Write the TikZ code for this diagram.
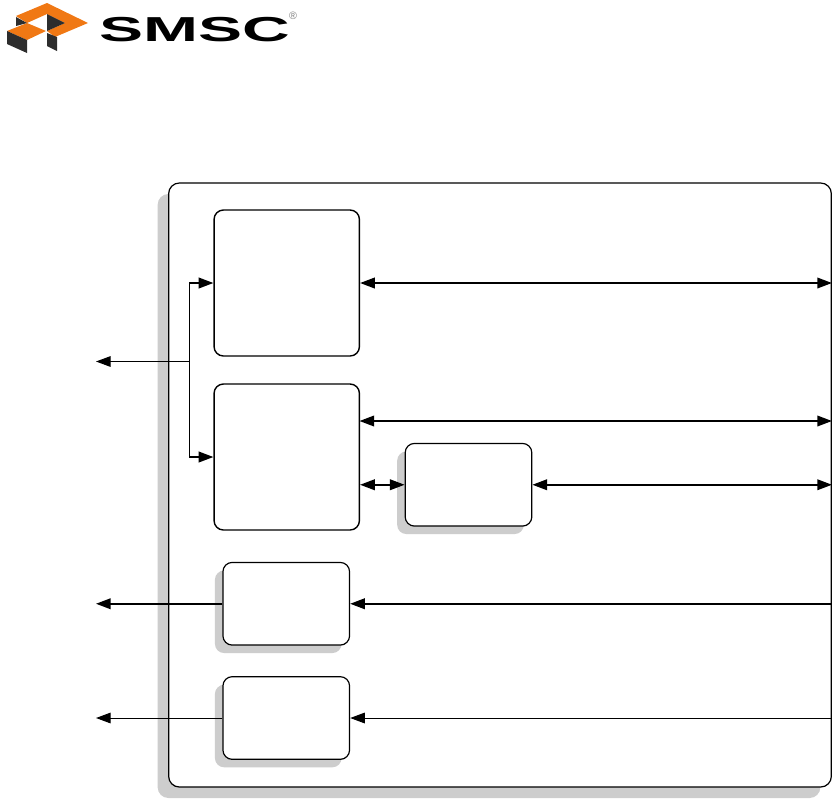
\documentclass[tikz,border=0pt]{standalone}
\usepackage{fontspec}
\usetikzlibrary{arrows.meta,shadows}
\newfontfamily\logofont{Liberation Sans}
\definecolor{logoorange}{RGB}{240,120,20}
\definecolor{logodark}{RGB}{45,45,45}
\definecolor{shadowgray}{RGB}{205,205,205}
\tikzset{
    blockbox/.style={draw, fill=white, line width=1.05pt, rounded corners=7pt, inner sep=0pt,
        minimum width=109pt, minimum height=109.5pt},
    smallbox/.style={blockbox, line width=0.9pt, minimum width=95pt, minimum height=62pt,
        drop shadow={shadow xshift=-6pt, shadow yshift=-6pt, opacity=1, fill=shadowgray}},
    mainbox/.style={blockbox, line width=0.9pt, rounded corners=8pt, minimum width=497pt, minimum height=453pt,
        drop shadow={shadow xshift=-8.25pt, shadow yshift=-8.25pt, opacity=1, fill=shadowgray}},
    thinline/.style={line width=0.75pt},
    boldline/.style={line width=1.2pt},
    oneway/.style={-{Triangle[length=11pt,width=8pt]}},
    bothways/.style={{Triangle[length=11pt,width=8pt]}-{Triangle[length=11pt,width=8pt]}}
}
\begin{document}
\begin{tikzpicture}[x=0.75pt,y=-0.75pt]
    \useasboundingbox (0,0) rectangle (835,801);
    % Logo
    \fill[logoorange] (16,16) -- (47,3) -- (88,23) -- (55,37) -- (47,31) -- (65,23) -- (47,14) -- (27,23) -- cycle;
    \fill[logoorange] (7,31) -- (27,23) -- (46,31) -- (27,40) -- cycle;
    \fill[logodark] (16,17) -- (27,23) -- (16,26) -- cycle;
    \fill[logodark] (47,14) -- (65,23) -- (47,31) -- cycle;
    \fill[logodark] (7,31) -- (27,40) -- (27,53) -- (7,44) -- cycle;
    \fill[logodark] (47,33) -- (57,37) -- (57,51) -- (47,46) -- cycle;
    \node[font=\logofont\bfseries, xscale=4.95, yscale=2.6, inner sep=0pt] (logotext) at (195,29.5) {SMSC};
    \node[font=\logofont\footnotesize, text=gray, inner sep=0pt] (logomark) at (293,15.5) {®};
    % Blocks
    \node[mainbox] (main) at (500,485) {};
    \node[blockbox] (upper) at (286.75,283) {};
    \node[blockbox] (lower) at (286.75,457) {};
    \node[smallbox] (mid) at (468.5,484.75) {};
    \node[smallbox] (top) at (286.25,603.75) {};
    \node[smallbox] (bot) at (286.25,718) {};
    % Free ends
    \coordinate (busout) at (96,361.5);
    \coordinate (bus) at (189.5,361.5);
    \coordinate (lowerport) at (359.5,421);
    \coordinate (topout) at (96,603.75);
    \coordinate (botout) at (96,718);
    % Connectors
    \draw[thinline, oneway] (bus) -- (busout);
    \draw[boldline, oneway] (bus) |- (upper.west);
    \draw[boldline, oneway] (bus) |- (lower.west);
    \draw[boldline, bothways] (upper.east) -- (upper.east -| main.east);
    \draw[boldline, bothways] (lowerport) -- (lowerport -| main.east);
    \draw[boldline, bothways] (lower.east |- mid.west) -- (mid.west);
    \draw[boldline, bothways] (mid.east) -- (mid.east -| main.east);
    \draw[boldline, oneway] (top.east -| main.east) -- (top.east);
    \draw[boldline, oneway] (top.west) -- (topout);
    \draw[thinline, oneway] (bot.east -| main.east) -- (bot.east);
    \draw[thinline, oneway] (bot.west) -- (botout);
\end{tikzpicture}
\end{document}
